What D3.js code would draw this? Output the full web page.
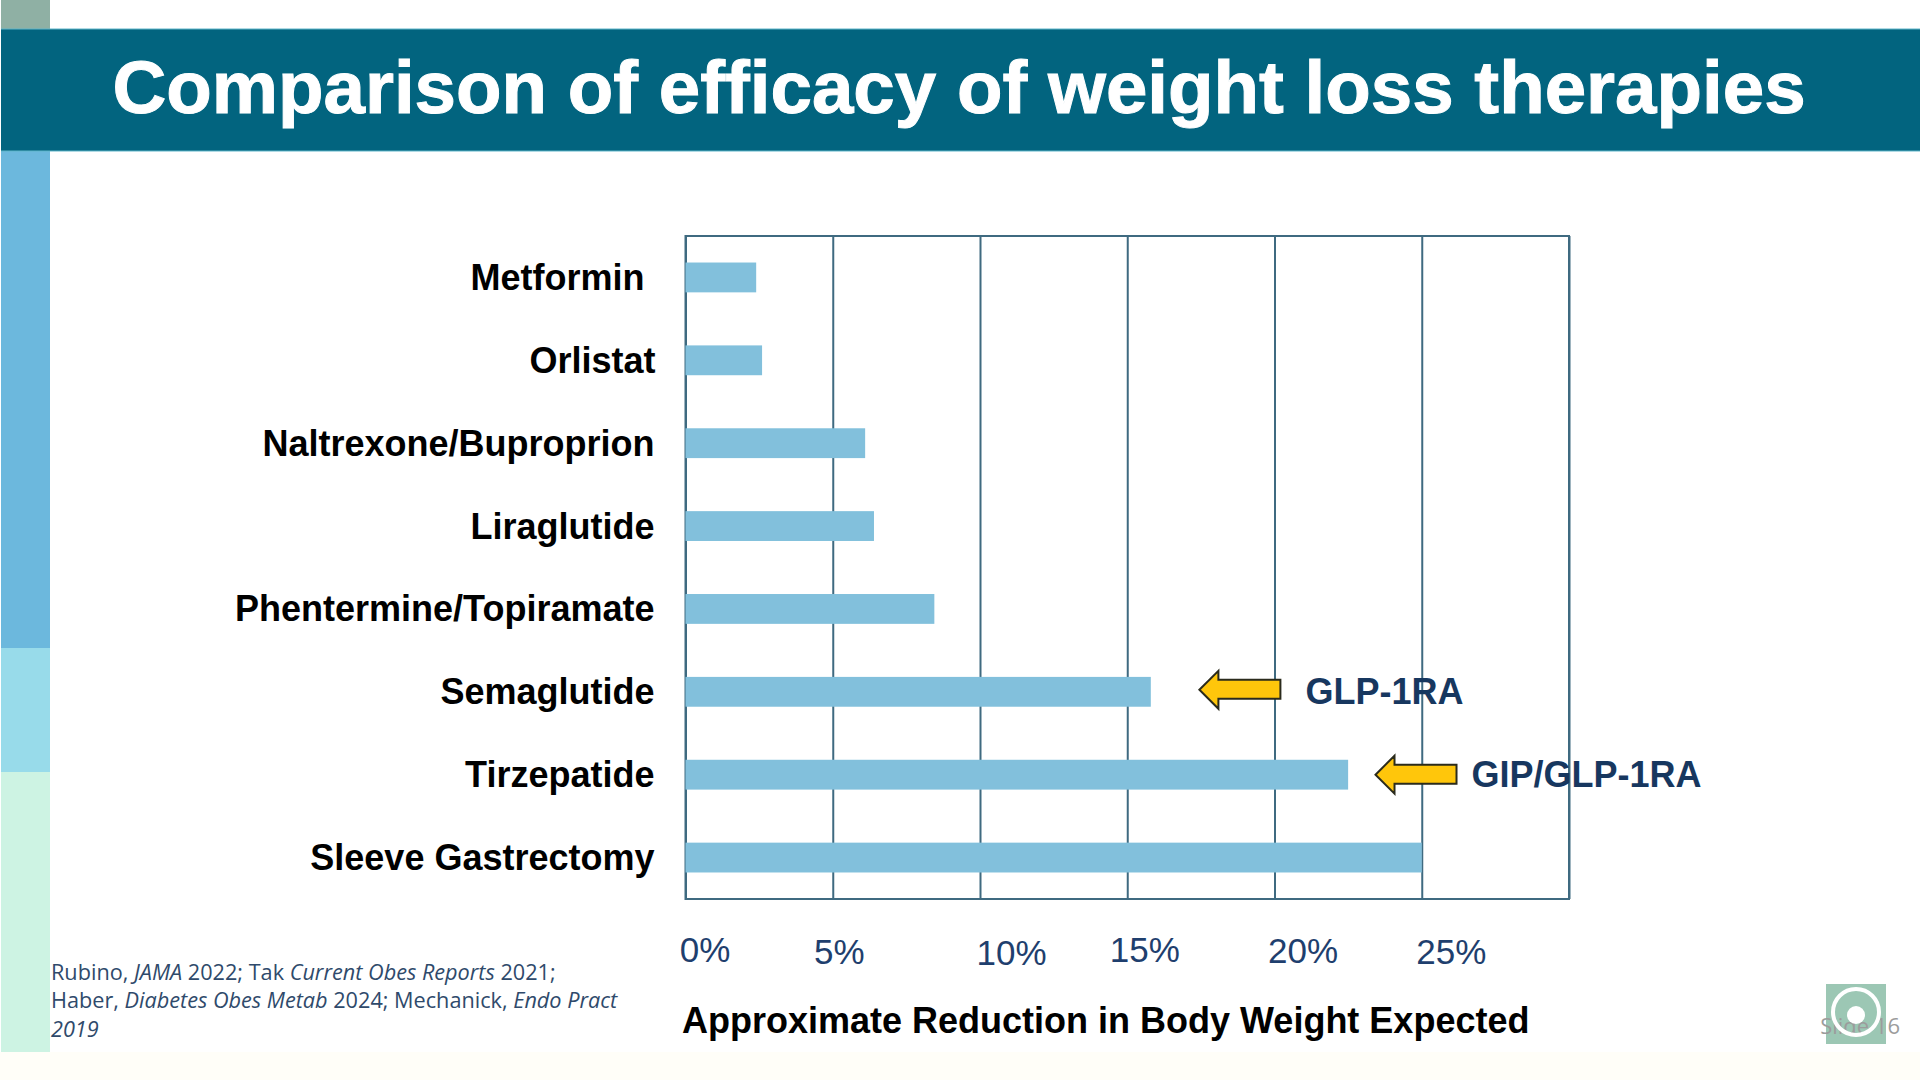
<!DOCTYPE html>
<html>
<head>
<meta charset="utf-8">
<script src="https://d3js.org/d3.v7.min.js"></script>
<style>
    html, body { margin: 0; padding: 0; background: #fff; overflow: hidden; }
    text { font-family: "Liberation Sans", Arial, sans-serif; }
</style>
</head>
<body>
<svg id="slide" width="1920" height="1080"></svg>
<script>
var titleText = "Comparison of efficacy of weight loss therapies";
var axisTitle = "Approximate Reduction in Body Weight Expected";

var categories = ["Metformin", "Orlistat", "Naltrexone/Buproprion", "Liraglutide",
    "Phentermine/Topiramate", "Semaglutide", "Tirzepatide", "Sleeve Gastrectomy"];
var reductions = [2.4, 2.6, 6.1, 6.4, 8.45, 15.8, 22.5, 25];

var tickValues = [0, 5, 10, 15, 20, 25, 30];
var tickLabels = ["0%", "5%", "10%", "15%", "20%", "25%", ""];

// arrows next to the two incretin bars
var noteCategories = ["Semaglutide", "Tirzepatide"];
var noteTips = [17.45, 23.43];
var noteLabels = ["GLP-1RA", "GIP/GLP-1RA"];

var footnoteLines = [
    [["Rubino, ", 0], ["JAMA", 1], [" 2022; Tak ", 0], ["Current Obes Reports", 1], [" 2021;", 0]],
    [["Haber, ", 0], ["Diabetes Obes Metab", 1], [" 2024; Mechanick, ", 0], ["Endo Pract", 1]],
    [["2019", 1]]
];

// the tick labels on the slide were placed by hand, they sit off their gridlines
var tickNudgeX = [19, 6, 31, 17, 28, 29, 0];
var tickNudgeY = [0, 2, 3, 0, 1, 2, 0];
var categoryNudgeX = [-10, 1, 0, 0, 0, 0, 0, 0];

var colors = {
    header: "#02647f",
    headerEdge: "#5fb5c9",
    bar: "#82c0dc",
    grid: "#3f6a80",
    ink: "#000000",
    tick: "#1f3f6e",
    note: "#17375f",
    arrow: "#ffc60b",
    arrowEdge: "#2b2b1c",
    footnote: "#2f4a6b"
};

var margin = { top: 236, right: 351, bottom: 181, left: 685.5 };
var width = 1920 - margin.left - margin.right;
var height = 1080 - margin.top - margin.bottom;

var svg = d3.select("#slide");

function drawBackdrop() {
    svg.append("rect").attr("x", 0).attr("y", 1052).attr("width", 1920).attr("height", 28).attr("fill", "#fffef8");

    // coloured strip down the left side
    var strip = [
        { y0: 0, y1: 29, fill: "#8fb0a4" },
        { y0: 151, y1: 648, fill: "#6cb8dd" },
        { y0: 648, y1: 772, fill: "#98dbea" },
        { y0: 772, y1: 1052, fill: "#cdf3e3" }
    ];
    svg.selectAll("rect.strip")
        .data(strip)
        .enter()
        .append("rect")
            .attr("class", "strip")
            .attr("x", 1)
            .attr("y", function (d) { return d.y0; })
            .attr("width", 49)
            .attr("height", function (d) { return d.y1 - d.y0; })
            .attr("fill", function (d) { return d.fill; });

    svg.append("rect")
        .attr("x", 1).attr("y", 29).attr("width", 1919).attr("height", 122)
        .attr("fill", colors.header);
    svg.append("line").attr("x1", 1).attr("x2", 1920).attr("y1", 29).attr("y2", 29)
        .attr("stroke", colors.headerEdge);
    svg.append("line").attr("x1", 1).attr("x2", 1920).attr("y1", 151).attr("y2", 151)
        .attr("stroke", colors.headerEdge);

    svg.append("text")
        .attr("x", 959)
        .attr("y", 87)
        .attr("dy", "0.35em")
        .attr("text-anchor", "middle")
        .attr("font-size", 74.5)
        .attr("font-weight", "bold")
        .attr("stroke", "#ffffff")
        .attr("stroke-width", 1)
        .attr("fill", "#ffffff")
        .text(titleText);
}

function drawChart() {
    var x = d3.scaleLinear().domain([0, 30]).range([0, width]);
    var y = d3.scaleBand().domain(categories).range([0, height]).paddingInner(0.64).paddingOuter(0.32);

    var chart = svg.append("g")
        .attr("transform", "translate(" + margin.left + "," + margin.top + ")");

    // gridlines and % labels
    var xAxis = chart.append("g")
        .attr("class", "x axis")
        .attr("transform", "translate(0," + height + ")")
        .call(d3.axisBottom(x)
            .tickValues(tickValues)
            .tickSize(-height)
            .tickFormat(function (d, i) { return tickLabels[i]; }));
    xAxis.select(".domain").remove();
    xAxis.selectAll(".tick line")
        .attr("stroke", colors.grid)
        .attr("stroke-width", 2);
    xAxis.selectAll(".tick text")
        .attr("y", 51)
        .attr("dx", function (d, i) { return tickNudgeX[i]; })
        .attr("dy", function (d, i) { return tickNudgeY[i] + 12; })
        .attr("font-family", "Liberation Sans")
        .attr("font-size", 35)
        .attr("fill", colors.tick);

    chart.append("rect")
        .attr("width", width)
        .attr("height", height)
        .attr("fill", "none")
        .attr("stroke", colors.grid)
        .attr("stroke-width", 2);

    var yAxis = chart.append("g")
        .attr("class", "y axis")
        .call(d3.axisLeft(y).tickSize(0).tickPadding(31));
    yAxis.select(".domain").remove();
    yAxis.selectAll(".tick text")
        .attr("dx", function (d, i) { return categoryNudgeX[i]; })
        .attr("y", 1)
        .attr("font-family", "Liberation Sans")
        .attr("font-size", 36)
        .attr("font-weight", "bold")
        .attr("fill", colors.ink);

    chart.selectAll("rect.bar")
        .data(reductions)
        .enter()
        .append("rect")
            .attr("class", "bar")
            .attr("x", 0)
            .attr("y", function (d, i) { return y(categories[i]); })
            .attr("width", function (d) { return x(d); })
            .attr("height", y.bandwidth())
            .attr("fill", colors.bar);

    // yellow arrows pointing back at the bars
    noteCategories.forEach(function (name, i) {
        var cy = y(name) + y.bandwidth() / 2 - (i === 0 ? 2 : 0);
        var tip = x(noteTips[i]);
        var arrow = d3.path();
        arrow.moveTo(tip, cy);
        arrow.lineTo(tip + 19, cy - 19);
        arrow.lineTo(tip + 19, cy - 10);
        arrow.lineTo(tip + 81, cy - 10);
        arrow.lineTo(tip + 81, cy + 9);
        arrow.lineTo(tip + 19, cy + 9);
        arrow.lineTo(tip + 19, cy + 19);
        arrow.closePath();
        chart.append("path")
            .attr("d", arrow.toString())
            .attr("fill", colors.arrow)
            .attr("stroke", colors.arrowEdge)
            .attr("stroke-width", 2);
        chart.append("text")
            .attr("x", tip + 96 + (i === 0 ? 10 : 0))
            .attr("y", y(name) + y.bandwidth() / 2)
            .attr("dy", "0.35em")
            .attr("font-size", 36)
            .attr("font-weight", "bold")
            .attr("fill", colors.note)
            .text(noteLabels[i]);
    });

    chart.append("text")
        .attr("x", -3.5)
        .attr("y", 784)
        .attr("dy", "0.35em")
        .attr("font-size", 36)
        .attr("font-weight", "bold")
        .attr("fill", colors.ink)
        .text(axisTitle);
}

function drawFootnote() {
    var note = svg.append("g")
        .attr("transform", "translate(51,0) scale(0.985,1)");
    footnoteLines.forEach(function (parts, i) {
        var line = note.append("text")
            .attr("y", 972 + i * 28.5)
            .attr("dy", "0.35em")
            .attr("font-size", 22)
            .attr("fill", colors.footnote)
            .style("font-family", "Open Sans");
        parts.forEach(function (p) {
            line.append("tspan")
                .attr("font-style", p[1] ? "italic" : "normal")
                .text(p[0]);
        });
    });
}

function drawLogo() {
    svg.append("rect")
        .attr("x", 1826).attr("y", 984).attr("width", 60).attr("height", 60)
        .attr("fill", "#9cc7b4");
    svg.append("text")
        .attr("x", 1900)
        .attr("y", 1026)
        .attr("dy", "0.35em")
        .attr("text-anchor", "end")
        .attr("font-size", 22)
        .attr("fill", "#9c9c9c")
        .style("font-family", "Open Sans")
        .text("Slide 16");
    svg.append("circle")
        .attr("cx", 1856).attr("cy", 1012).attr("r", 23)
        .attr("fill", "none")
        .attr("stroke", "#ffffff")
        .attr("stroke-width", 4);
    svg.append("circle")
        .attr("cx", 1856).attr("cy", 1015).attr("r", 9)
        .attr("fill", "#ffffff");
}

drawBackdrop();
drawChart();
drawFootnote();
drawLogo();
</script>
</body>
</html>
